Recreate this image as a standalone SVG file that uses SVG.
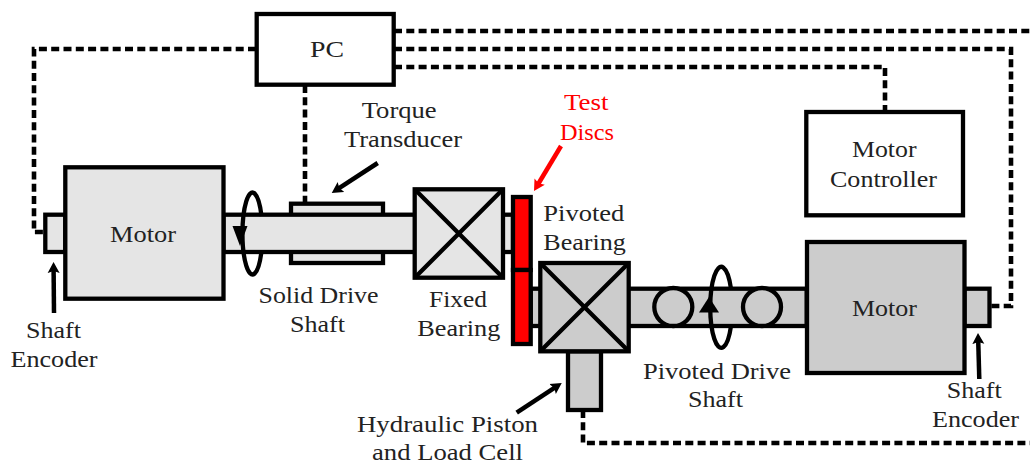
<svg xmlns="http://www.w3.org/2000/svg" width="1030" height="464" viewBox="0 0 1030 464">
<style>
.b{stroke:#000;stroke-width:4.3;fill:none}
.l{fill:#e5e5e5}
.d{fill:#ccc}
.w{fill:#fff}
.r{fill:#f00}
.dash{stroke:#000;stroke-width:4.6;fill:none;stroke-dasharray:8 4.3}
.arr{stroke:#000;stroke-width:4.5;fill:none;marker-end:url(#ah)}
.arrR{stroke:#f00;stroke-width:4.5;fill:none;marker-end:url(#ahR)}
text{font-family:"Liberation Serif","Times New Roman",serif;font-size:23.5px;fill:#222}
text.red{fill:#f00}
</style>
<defs>
<marker id="ah" markerUnits="userSpaceOnUse" markerWidth="14" markerHeight="14" refX="4" refY="6.5" orient="auto"><path d="M0 0.5L11 6.5L0 12.5L2 6.5Z" fill="#000"/></marker>
<marker id="ahR" markerUnits="userSpaceOnUse" markerWidth="14" markerHeight="14" refX="4" refY="6.5" orient="auto"><path d="M0 0.5L11 6.5L0 12.5L2 6.5Z" fill="#f00"/></marker>
</defs>
<g id="connectors">
<path class="dash" d="M256 49H34V232H45"/>
<path class="dash" d="M305 85V203"/>
<path class="dash" d="M394 31H1030"/>
<path class="dash" d="M394 49H1011V306H990"/>
<path class="dash" d="M394 67H885V112"/>
<path class="dash" d="M583 410V443H1030"/>
<path class="arr" d="M54 313L53.6 269"/>
<path class="arr" d="M979.3 379L978.2 340"/>
<path class="arr" d="M377.7 163L337.6 189.2"/>
<path class="arrR" d="M561 146L537.6 185"/>
<path class="arr" d="M516.7 412.7L555.9 386.9"/>
</g>
<g id="transducer"><rect class="b l" x="291" y="203.7" width="92" height="59.3"/></g>
<g id="solid-shaft">
<rect class="b l" x="223.5" y="214.7" width="289.5" height="37.3"/>
<path class="b" d="M261.5 216A10 41 0 1 0 261.5 251"/>
<path d="M232.5 226H247.5L240 246Z" fill="#000"/>
<text x="258.5" y="303.3" textLength="120" lengthAdjust="spacingAndGlyphs">Solid Drive</text>
<text x="290" y="331.7" textLength="55" lengthAdjust="spacingAndGlyphs">Shaft</text>
</g>
<g id="encoder-left">
<rect class="b l" x="45.3" y="214.7" width="20" height="37.3"/>
<text x="26" y="338.3" textLength="55" lengthAdjust="spacingAndGlyphs">Shaft</text>
<text x="10.5" y="367.3" textLength="87" lengthAdjust="spacingAndGlyphs">Encoder</text>
</g>
<g id="motor-left">
<rect class="b l" x="65.3" y="167.3" width="158.2" height="131.4"/>
<text x="110" y="241.7" textLength="66" lengthAdjust="spacingAndGlyphs">Motor</text>
</g>
<g id="fixed-bearing">
<rect class="b l" x="414.7" y="189.3" width="88.3" height="88.4"/>
<path class="b" d="M414.7 189.3L503 277.7M503 189.3L414.7 277.7"/>
<text x="429" y="306.7" textLength="58" lengthAdjust="spacingAndGlyphs">Fixed</text>
<text x="417.3" y="335.7" textLength="83" lengthAdjust="spacingAndGlyphs">Bearing</text>
</g>
<g id="pivoted-shaft">
<rect class="b d" x="530.7" y="288.7" width="276" height="37.3"/>
<circle class="b d" cx="673.3" cy="307" r="19"/>
<circle class="b d" cx="762" cy="307" r="19"/>
<path class="b" d="M731 288.7A11 40.5 0 1 0 731 326"/>
<path d="M699 312.5H719L709 297Z" fill="#000"/>
<text x="643" y="379" textLength="148" lengthAdjust="spacingAndGlyphs">Pivoted Drive</text>
<text x="688" y="407" textLength="55" lengthAdjust="spacingAndGlyphs">Shaft</text>
</g>
<g id="test-discs">
<rect class="b r" x="513" y="197" width="17.7" height="73"/>
<rect class="b r" x="513" y="270" width="17.7" height="74"/>
<text class="red" x="564" y="110" textLength="44.5" lengthAdjust="spacingAndGlyphs">Test</text>
<text class="red" x="560" y="140" textLength="54" lengthAdjust="spacingAndGlyphs">Discs</text>
</g>
<g id="piston">
<rect class="b d" x="568" y="351.3" width="33" height="58.7"/>
<text x="357" y="431.7" textLength="181" lengthAdjust="spacingAndGlyphs">Hydraulic Piston</text>
<text x="372" y="460" textLength="151" lengthAdjust="spacingAndGlyphs">and Load Cell</text>
</g>
<g id="pivoted-bearing">
<rect class="b d" x="540.3" y="263" width="88.4" height="88.3"/>
<path class="b" d="M540.3 263L628.7 351.3M628.7 263L540.3 351.3"/>
<text x="543.3" y="220.7" textLength="81" lengthAdjust="spacingAndGlyphs">Pivoted</text>
<text x="543.3" y="250" textLength="82.5" lengthAdjust="spacingAndGlyphs">Bearing</text>
</g>
<g id="encoder-right">
<rect class="b d" x="964.5" y="288.7" width="25" height="37.3"/>
<text x="946.7" y="398.3" textLength="55" lengthAdjust="spacingAndGlyphs">Shaft</text>
<text x="932" y="427.3" textLength="87" lengthAdjust="spacingAndGlyphs">Encoder</text>
</g>
<g id="motor-right">
<rect class="b d" x="807" y="242" width="157.5" height="131"/>
<text x="852" y="316" textLength="65" lengthAdjust="spacingAndGlyphs">Motor</text>
</g>
<g id="pc">
<rect class="b w" x="256.7" y="14" width="137" height="70.7"/>
<text x="310" y="57.3" textLength="34" lengthAdjust="spacingAndGlyphs">PC</text>
</g>
<g id="motor-controller">
<rect class="b w" x="806.3" y="112" width="156.7" height="103.3"/>
<text x="852" y="156.7" textLength="64.5" lengthAdjust="spacingAndGlyphs">Motor</text>
<text x="830" y="186.7" textLength="107" lengthAdjust="spacingAndGlyphs">Controller</text>
</g>
<g id="torque-label">
<text x="361.7" y="118" textLength="75" lengthAdjust="spacingAndGlyphs">Torque</text>
<text x="344" y="147.3" textLength="118" lengthAdjust="spacingAndGlyphs">Transducer</text>
</g>
</svg>
